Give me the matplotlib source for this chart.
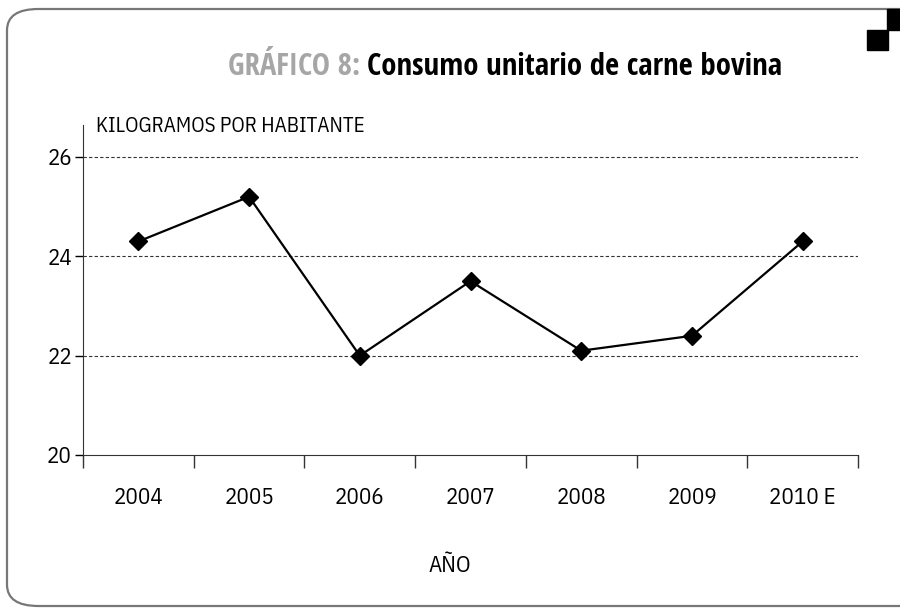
import matplotlib
matplotlib.use('Agg')
import matplotlib.pyplot as plt
from matplotlib.patches import FancyBboxPatch, Rectangle

years = ['2004', '2005', '2006', '2007', '2008', '2009', '2010 E']
consumo = [24.3, 25.2, 22.0, 23.5, 22.1, 22.4, 24.3]
yticks = [20, 22, 24, 26]

plt.rcParams['font.family'] = ['IBM Plex Sans Condensed', 'Open Sans',
                               'DejaVu Sans']
plt.rcParams['font.stretch'] = 'condensed'
plt.rcParams['font.weight'] = 'normal'

W, H = 900, 608
fig = plt.figure(figsize=(9, 6.08), dpi=100, facecolor='w')

# rounded frame
frame = FancyBboxPatch((7 / W, 2 / H), 940 / W, 597 / H,
                       boxstyle='round,pad=0,rounding_size=0.035',
                       transform=fig.transFigure, fill=False,
                       edgecolor='#777777', linewidth=1.6, zorder=0)
fig.patches.append(frame)
# corner squares
fig.patches.append(Rectangle((887 / W, 1 - 30 / H), 13 / W, 21 / H,
                             transform=fig.transFigure, color='k'))
fig.patches.append(Rectangle((867 / W, 1 - 50 / H), 21 / W, 20 / H,
                             transform=fig.transFigure, color='k'))

# title, sized and centred where the reference has it
tfam = ['Open Sans Condensed', 'Open Sans', 'DejaVu Sans']
t1 = fig.text(0.0, 1 - 67 / H, 'GRÁFICO 8: ', color='#a6a6a6',
              fontsize=28, fontweight='bold', family=tfam,
              va='center', ha='left')
t2 = fig.text(0.0, 1 - 67 / H, 'Consumo unitario de carne bovina',
              color='k', fontsize=28, fontweight='bold', family=tfam,
              va='center', ha='left')
fig.canvas.draw()
r = fig.canvas.get_renderer()
tw = t1.get_window_extent(r).width + t2.get_window_extent(r).width
fs = 28 * 555 / tw
t1.set_fontsize(fs)
t2.set_fontsize(fs)
fig.canvas.draw()
w1 = t1.get_window_extent(r).width
w2 = t2.get_window_extent(r).width
x0 = 505 - (w1 + w2) / 2
t1.set_x(x0 / W)
t2.set_x((x0 + w1) / W)

ax = fig.add_axes([83 / W, 1 - 455 / H, 775 / W, (455 - 125) / H])
x = list(range(len(years)))
ax.plot(x, consumo, color='k', linewidth=1.6, marker='D', markersize=9,
        markerfacecolor='k', markeredgecolor='k', zorder=3)

ax.set_xlim(-0.5, len(years) - 0.5)
ax.set_ylim(20, 26 + 6 * 32 / 298)
ax.set_yticks(yticks)
ax.set_yticklabels([str(v) for v in yticks], fontsize=16.5)
ax.set_xticks([i + 0.5 for i in range(-1, len(years))])
ax.set_xticklabels([])
ax.set_xticks(x, minor=True)
ax.set_xticklabels(years, minor=True, fontsize=16.5)
ax.tick_params(axis='x', which='major', direction='out', length=9,
               width=1, color='#333333')
ax.tick_params(axis='x', which='minor', length=0, pad=23)
ax.tick_params(axis='y', direction='out', length=6, width=1, pad=2)

for v in yticks[1:]:
    ax.axhline(v, color='#333333', linestyle=(0, (3, 2)), linewidth=0.8,
               zorder=1)

for s in ['top', 'right']:
    ax.spines[s].set_visible(False)
ax.spines['left'].set_color('#333333')
ax.spines['bottom'].set_color('#333333')

ax.text(0.017, 26 + 6 * 30 / 298, 'KILOGRAMOS POR HABITANTE',
        transform=ax.get_yaxis_transform(), fontsize=15,
        va='center', ha='left')
fig.text(450 / W, 1 - 566 / H, 'AÑO', fontsize=16.5, ha='center',
         va='center')

fig.savefig('out.png', dpi=100)
